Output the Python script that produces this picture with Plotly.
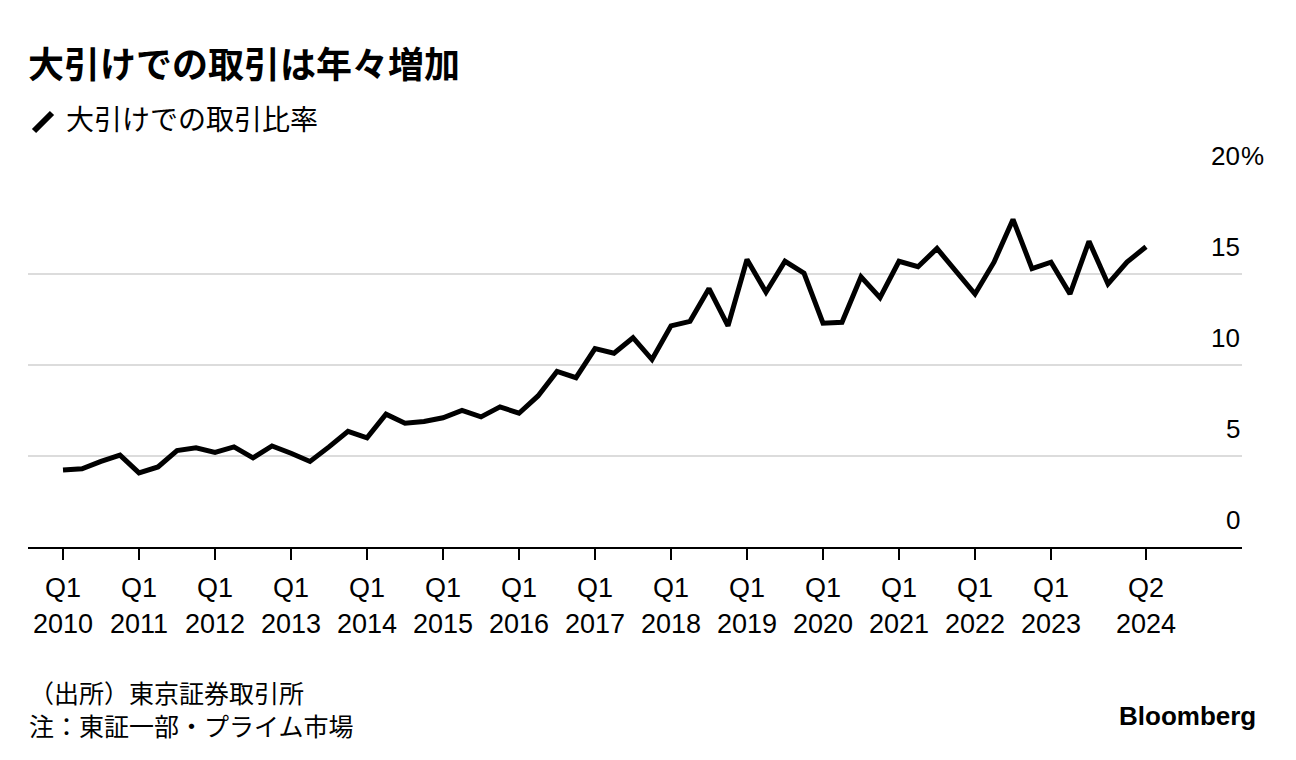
import plotly.graph_objects as go

# Data: share of trading at the close (%), quarterly Q1 2010 .. Q2 2024
quarters = [f"{y} Q{q}" for y in range(2010, 2025) for q in range(1, 5)][:58]
values = [
    4.23, 4.3, 4.7, 5.05,    # 2010
    4.07, 4.4, 5.3, 5.45,    # 2011
    5.2, 5.5, 4.9, 5.55,     # 2012
    5.15, 4.7, 5.5, 6.35,    # 2013
    6.0, 7.3, 6.8, 6.9,      # 2014
    7.1, 7.5, 7.15, 7.7,     # 2015
    7.35, 8.3, 9.65, 9.3,    # 2016
    10.9, 10.65, 11.5, 10.3, # 2017
    12.15, 12.4, 14.2, 12.15,# 2018
    15.8, 14.0, 15.7, 15.05, # 2019
    12.3, 12.35, 14.85, 13.7,# 2020
    15.7, 15.4, 16.4, 15.1,  # 2021
    13.9, 15.65, 18.0, 15.3, # 2022
    15.65, 13.9, 16.8, 14.45,# 2023
    15.65, 16.5,             # 2024
]
tick_idx = [0, 4, 8, 12, 16, 20, 24, 28, 32, 36, 40, 44, 48, 52, 57]
tick_text = ["Q1<br>2010", "Q1<br>2011", "Q1<br>2012", "Q1<br>2013", "Q1<br>2014",
             "Q1<br>2015", "Q1<br>2016", "Q1<br>2017", "Q1<br>2018", "Q1<br>2019",
             "Q1<br>2020", "Q1<br>2021", "Q1<br>2022", "Q1<br>2023", "Q2<br>2024"]
y_ticks = [0, 5, 10, 15, 20]

title = "大引けでの取引は年々増加"
legend_label = "大引けでの取引比率"
source = "（出所）東京証券取引所"
note = "注：東証一部・プライム市場"

LAT = "Liberation Sans, Arial, Noto Sans CJK JP, sans-serif"
CJK = "Noto Sans CJK JP, sans-serif"

W, H = 1296, 760
L, R, T, B = 28, 1242, 183, 547

x_idx = list(range(len(values)))

fig = go.Figure()
fig.add_trace(go.Scatter(
    x=x_idx, y=values, mode="lines",
    line=dict(color="black", width=5),
    hovertext=quarters, hoverinfo="text+y",
    cliponaxis=False, showlegend=False,
))

def px_x(p):
    return (p - L) / (R - L)

def px_y(p):
    return (B - p) / (B - T)

ann = []
ann.append(dict(text=f"<b>{title}</b>", xref="paper", yref="paper", x=px_x(26), y=px_y(62),
                xanchor="left", yanchor="middle", showarrow=False,
                font=dict(family=CJK, size=36, color="black")))
ann.append(dict(text=legend_label, xref="paper", yref="paper", x=px_x(64), y=px_y(118),
                xanchor="left", yanchor="middle", showarrow=False,
                font=dict(family=CJK, size=28, color="black")))
for v in y_ticks:
    ann.append(dict(text=str(v), xref="paper", yref="y", x=1, y=v, xshift=0, yshift=27,
                    xanchor="right", yanchor="middle", showarrow=False,
                    font=dict(family=LAT, size=26, color="black")))
ann.append(dict(text="%", xref="paper", yref="y", x=1, y=y_ticks[-1], xshift=-3, yshift=27,
                xanchor="left", yanchor="middle", showarrow=False,
                font=dict(family=LAT, size=26, color="black")))
ann.append(dict(text=source + "<br>" + note, xref="paper", yref="paper", x=px_x(27), y=px_y(708),
                xanchor="left", yanchor="middle", align="left", showarrow=False,
                font=dict(family=CJK, size=25, color="black")))
ann.append(dict(text="<b>Bloomberg</b>", xref="paper", yref="paper", x=px_x(1258), y=px_y(716),
                xanchor="right", yanchor="middle", showarrow=False,
                font=dict(family=LAT, size=26, color="black")))

shapes = [dict(type="line", xref="paper", yref="paper",
               x0=px_x(34), y0=px_y(131), x1=px_x(52), y1=px_y(113),
               line=dict(color="black", width=6))]

x_per = (1146 - 63) / 57.0
x0 = 0 - (63 - L) / x_per
x1 = 0 + (R - 63) / x_per

fig.update_layout(
    width=W, height=H,
    margin=dict(l=L, r=W - R, t=T, b=H - B, pad=0),
    paper_bgcolor="white", plot_bgcolor="white",
    annotations=ann, shapes=shapes,
    showlegend=False,
    xaxis=dict(range=[x0, x1], tickvals=tick_idx, ticktext=tick_text,
               showgrid=False, zeroline=False,
               showline=True, linecolor="black", linewidth=2,
               ticks="outside", ticklen=11, tickwidth=1.5, tickcolor="black",
               ticklabelstandoff=5,
               tickfont=dict(family=LAT, size=27, color="black"),
               fixedrange=True),
    yaxis=dict(range=[0, 20], tickvals=[5, 10, 15, 20], showticklabels=False,
               showgrid=True, gridcolor="#dcdcdc", gridwidth=2,
               zeroline=False, showline=False, ticks="", fixedrange=True),
)

fig.write_html("out.html", config={"displayModeBar": False})

# remove default page margin so the figure sits at the window's top-left corner
with open("out.html", "r", encoding="utf-8") as f:
    html = f.read()
html = html.replace("<head>", "<head><style>html,body{margin:0;padding:0;}</style>", 1)
with open("out.html", "w", encoding="utf-8") as f:
    f.write(html)
